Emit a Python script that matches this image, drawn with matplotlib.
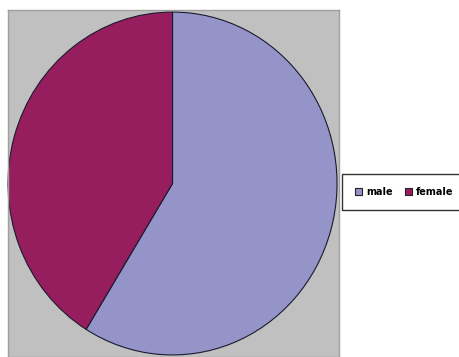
import matplotlib.pyplot as plt
from matplotlib.patches import Patch

# pie data
labels = ["male", "female"]
shares = [58.8, 41.2]
colours = ["#9494C9", "#961E5E"]

fig = plt.figure(figsize=(4.59, 3.57), dpi=100)
fig.patch.set_facecolor("white")

# plot area (grey box), pixel box 8..339 x 10..357
ax = fig.add_axes([8 / 459, 0.0, 331 / 459, 347 / 357])
ax.set_facecolor("#C0C0C0")

ax.pie(shares, colors=colours, startangle=90, counterclock=False,
       wedgeprops=dict(edgecolor="#1A1A2E", linewidth=0.8), frame=True)
ax.set_aspect("auto")
ax.set_xlim(-1.0, 1.012)
ax.set_ylim(-1.012, 1.012)
ax.set_xticks([])
ax.set_yticks([])
for s in ax.spines.values():
    s.set_color("#A0A0A0")
    s.set_linewidth(1.0)

handles = [Patch(facecolor=c, edgecolor="#222222", linewidth=0.8) for c in colours]
leg = fig.legend(handles, labels, ncol=2, loc="center left",
                 bbox_to_anchor=(342 / 459, 165 / 357),
                 prop=dict(size=7, weight="bold"), handlelength=0.7, handleheight=0.7,
                 handletextpad=0.4, columnspacing=1.3, fancybox=False,
                 borderpad=1.35, borderaxespad=0)
leg.get_frame().set_edgecolor("black")
leg.get_frame().set_linewidth(1.0)

fig.savefig("out.png", dpi=100)
